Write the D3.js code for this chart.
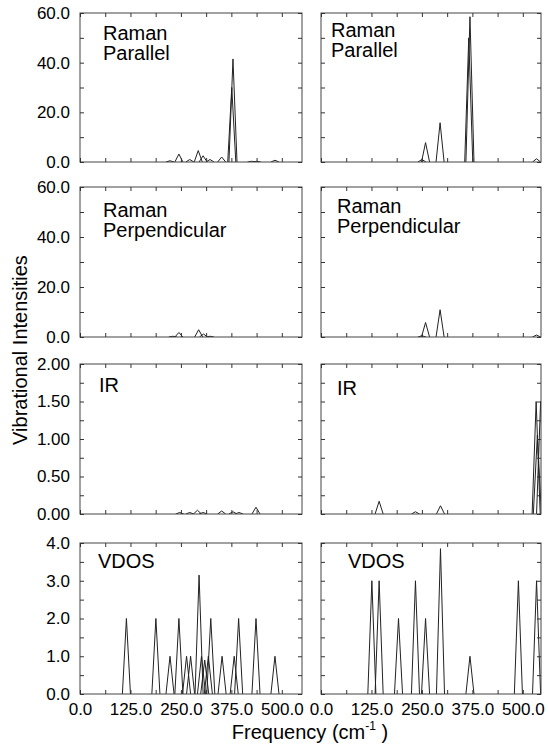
<!DOCTYPE html>
<html>
<head>
<meta charset="utf-8">
<script src="https://cdn.jsdelivr.net/npm/d3@7"></script>
<style>
  body { margin: 0; background: #fff; }
  text { font-family: "Liberation Sans", Arial, sans-serif; fill: #000; }
</style>
</head>
<body>
<script>
// Vibrational spectra: left column and right column, four rows each

// axis ticks (minor + labelled)
const freqTicks = [0, 62.5, 125, 187.5, 250, 312.5, 375, 437.5, 500];
const freqLabels = [0, 125, 250, 375, 500];
const ramanTicks = [0, 10, 20, 30, 40, 50, 60];
const ramanLabels = [0, 20, 40, 60];
const irTicks = [0, 0.25, 0.5, 0.75, 1, 1.25, 1.5, 1.75, 2];
const irLabels = [0, 0.5, 1, 1.5, 2];
const vdosTicks = [0, 0.5, 1, 1.5, 2, 2.5, 3, 3.5, 4];
const vdosLabels = [0, 1, 2, 3, 4];

const panelTitles = [["Raman", "Parallel"], ["Raman", "Perpendicular"], ["IR"], ["VDOS"]];

// peaks: [frequency, intensity]
const ramanParLeft = [[223, 0.5], [245, 3.2], [272, 1], [293, 4.6], [305, 2.5], [322, 1],
  [351, 2], [376, 30], [379, 41.5], [425, 0.3], [438, 0.3], [483, 0.7]];
const ramanParRight = [[250, 1], [259, 7.8], [295, 15.8], [366, 50], [369, 58.5], [534, 1.3]];

const ramanPerpLeft = [[230, 0.3], [245, 1.8], [294, 2.9], [306, 1.2], [322, 0.3]];
const ramanPerpRight = [[250, 0.5], [259, 5.8], [295, 10.9], [534, 0.8]];

const irLeft = [[247, 0.02], [272, 0.02], [291, 0.05], [305, 0.02], [351, 0.04],
  [379, 0.03], [394, 0.02], [436, 0.09]];
const irRight = [[144, 0.17], [234, 0.03], [296, 0.11], [533, 1.5], [536, 1.05], [544, 1.5]];

const vdosLeft = [[115, 2], [188, 2], [223, 1], [245, 2], [264, 1], [274, 1], [295, 3.15],
  [301, 1], [309, 0.9], [318, 1], [324, 2], [352, 1], [382, 1], [393, 2], [436, 2], [483, 1]];
const vdosRight = [[126, 3], [144, 3], [192, 2], [234, 3], [259, 2], [296, 3.85],
  [369, 1], [489, 3], [534, 3]];

const peakHalfWidth = 10; // cm-1, broadening drawn as narrow peaks

const rows = [
  { ticks: ramanTicks, labels: ramanLabels, max: 60, fmt: d3.format(".1f"), data: [ramanParLeft, ramanParRight] },
  { ticks: ramanTicks, labels: ramanLabels, max: 60, fmt: d3.format(".1f"), data: [ramanPerpLeft, ramanPerpRight] },
  { ticks: irTicks, labels: irLabels, max: 2, fmt: d3.format(".2f"), data: [irLeft, irRight] },
  { ticks: vdosTicks, labels: vdosLabels, max: 4, fmt: d3.format(".1f"), data: [vdosLeft, vdosRight] }
];

// layout
const cols = [{ x0: 80, x1: 302, max: 550 }, { x0: 321, x1: 541, max: 545 }];
const rowY = [[13, 162], [187, 337], [364, 514], [543, 694]];
// title offsets inside each panel [col][row] = [dx, dy]
const titlePos = [
  [[23, 27], [23, 30], [19, 28], [18, 25]],
  [[10, 24], [16, 26], [16, 31], [27, 25]]
];

const svg = d3.select("body").append("svg")
  .attr("width", 548)
  .attr("height", 748);

const line = d3.line();

rows.forEach((row, ri) => {
  cols.forEach((col, ci) => {
    const [top, bottom] = rowY[ri];
    const x = d3.scaleLinear().domain([0, col.max]).range([col.x0, col.x1]);
    const y = d3.scaleLinear().domain([0, row.max]).range([bottom, top]);
    const g = svg.append("g");
    const clipId = `clip-${ri}-${ci}`;

    g.append("clipPath").attr("id", clipId)
      .append("rect")
      .attr("x", col.x0).attr("y", top - 1)
      .attr("width", col.x1 - col.x0).attr("height", bottom - top + 1);

    // spectrum peaks
    g.append("g")
      .attr("clip-path", `url(#${clipId})`)
      .selectAll("path")
      .data(row.data[ci])
      .join("path")
      .attr("fill", "none")
      .attr("stroke", "#222")
      .attr("stroke-width", 1)
      .attr("stroke-linejoin", "round")
      .attr("d", d => line([
        [x(d[0] - peakHalfWidth), y(0)],
        [x(d[0]), y(d[1])],
        [x(d[0] + peakHalfWidth), y(0)]
      ]));

    // frame
    g.append("rect")
      .attr("x", col.x0).attr("y", top)
      .attr("width", col.x1 - col.x0).attr("height", bottom - top)
      .attr("fill", "none")
      .attr("stroke", "#444")
      .attr("stroke-width", 1);

    const isLabel = (arr) => (d) => arr.some(v => Math.abs(v - d) < 1e-9);
    const xLab = isLabel(freqLabels);
    const yLab = isLabel(row.labels);

    const bottomAxis = d3.axisBottom(x).tickValues(freqTicks).tickSize(-4).tickPadding(9)
      .tickFormat(d => (ri === 3 && xLab(d)) ? d3.format(".1f")(d) : "");
    const topAxis = d3.axisTop(x).tickValues(freqTicks).tickSize(-4).tickFormat("");
    const leftAxis = d3.axisLeft(y).tickValues(row.ticks).tickSize(-4).tickPadding(10)
      .tickFormat(d => (ci === 0 && yLab(d)) ? row.fmt(d) : "");
    const rightAxis = d3.axisRight(y).tickValues(row.ticks).tickSize(-4).tickFormat("");

    const axes = [
      [bottomAxis, `translate(0,${bottom})`],
      [topAxis, `translate(0,${top})`],
      [leftAxis, `translate(${col.x0},0)`],
      [rightAxis, `translate(${col.x1},0)`]
    ];
    axes.forEach(([ax, tr]) => {
      const a = g.append("g").attr("transform", tr).call(ax);
      a.select(".domain").remove();
      a.selectAll(".tick line").attr("stroke", "#333");
      a.selectAll(".tick text")
        .style("font-family", "'Liberation Sans', Arial, sans-serif")
        .style("font-size", "17px")
        .attr("fill", "#000");
    });

    // panel title
    const [dx, dy] = titlePos[ci][ri];
    const t = g.append("text")
      .attr("x", col.x0 + dx)
      .attr("y", top + dy)
      .style("font-size", "20px");
    panelTitles[ri].forEach((s, k) => {
      t.append("tspan")
        .attr("x", col.x0 + dx)
        .attr("dy", k === 0 ? 0 : 20)
        .text(s);
    });
  });
});

// axis titles
svg.append("text")
  .attr("transform", "translate(27,350) rotate(-90)")
  .attr("text-anchor", "middle")
  .style("font-size", "20px")
  .text("Vibrational Intensities");

const xt = svg.append("text")
  .attr("x", 310)
  .attr("y", 739)
  .attr("text-anchor", "middle")
  .style("font-size", "20px");
xt.append("tspan").text("Frequency (cm");
xt.append("tspan").attr("dy", -9).style("font-size", "12px").text("-1");
xt.append("tspan").attr("dy", 9).text(" )");
</script>
</body>
</html>
